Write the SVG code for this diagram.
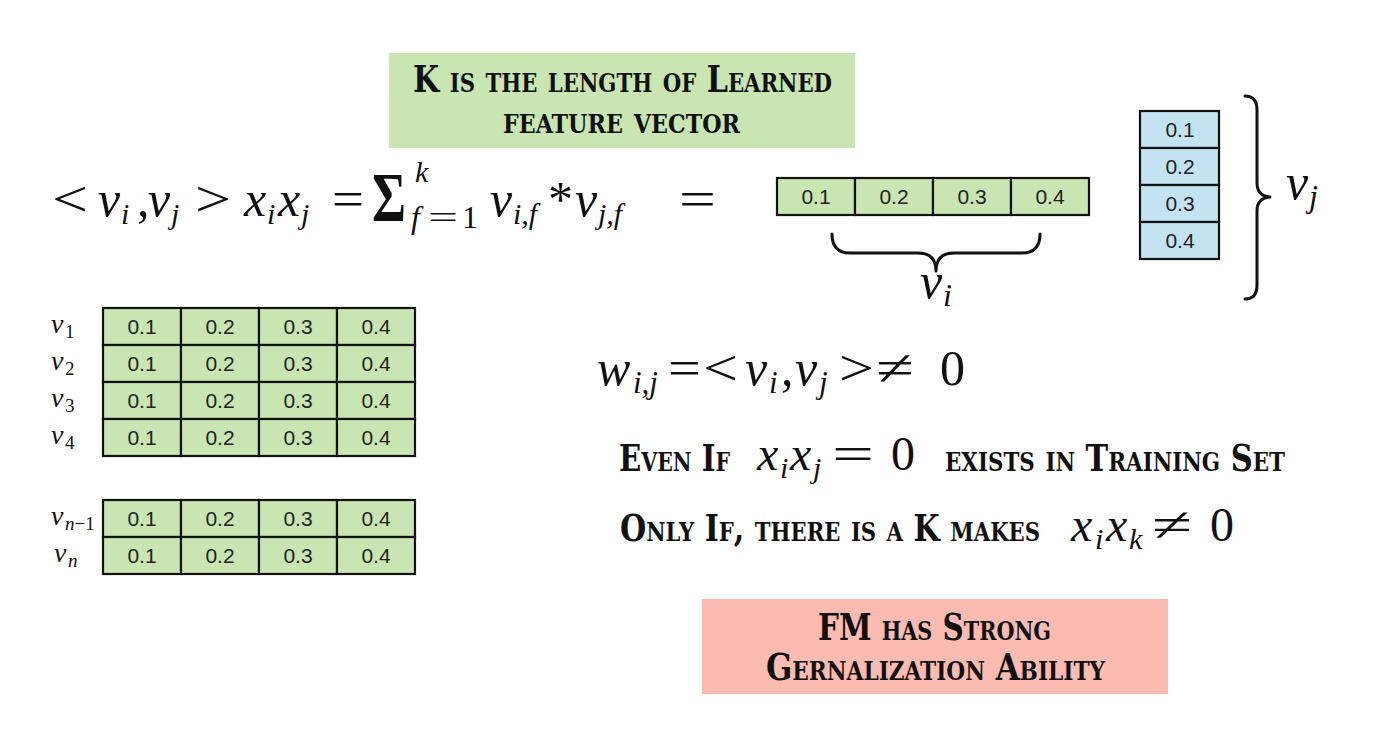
<svg xmlns="http://www.w3.org/2000/svg" width="1400" height="747" viewBox="0 0 1400 747">
<style>
.bg{fill:#ffffff}
.g{fill:#c9e6b2;stroke:#111;stroke-width:2.2}
.b{fill:#c3e2f2;stroke:#111;stroke-width:2.2}
.num{font-family:"Liberation Sans",Arial,sans-serif;font-size:21px;fill:#222;text-anchor:middle}
.m{font-family:"Liberation Serif","Times New Roman",serif;fill:#111}
.i{font-style:italic}
.hd{font-family:"DejaVu Serif Condensed","DejaVu Serif",serif;font-weight:bold;font-variant:small-caps;fill:#111;font-size:37px}
.brace{fill:none;stroke:#111;stroke-width:3;stroke-linecap:round;stroke-linejoin:round}
</style>
<rect class="bg" x="0" y="0" width="1400" height="747"/>

<g id="note-k">
<rect x="389" y="53" width="466" height="95" fill="#c9e6b2"/>
<text class="hd" x="413" y="92" textLength="419" lengthAdjust="spacingAndGlyphs">K is the length of Learned</text>
<text class="hd" x="503" y="133" textLength="237" lengthAdjust="spacingAndGlyphs">feature vector</text>
</g>

<g id="formula-main">
<text class="m" x="52" y="216" font-size="50" textLength="36" lengthAdjust="spacingAndGlyphs">&lt;</text>
<text class="m i" x="98" y="216" font-size="50">v</text>
<text class="m i" x="121" y="224" font-size="30">i</text>
<text class="m" x="137" y="216" font-size="50">,</text>
<text class="m i" x="148" y="216" font-size="50">v</text>
<text class="m i" x="171" y="224" font-size="30">j</text>
<text class="m" x="195" y="216" font-size="50" textLength="36" lengthAdjust="spacingAndGlyphs">&gt;</text>
<text class="m i" x="244" y="216" font-size="50">x</text>
<text class="m i" x="267" y="224" font-size="30">i</text>
<text class="m i" x="278" y="216" font-size="50">x</text>
<text class="m i" x="301" y="224" font-size="30">j</text>
<text class="m" x="332" y="216" font-size="50" textLength="32" lengthAdjust="spacingAndGlyphs">=</text>
<text class="m" x="372" y="221" font-size="70" font-weight="bold" textLength="34" lengthAdjust="spacingAndGlyphs">Σ</text>
<text class="m i" x="415" y="182" font-size="30">k</text>
<text class="m i" x="411" y="228" font-size="32">f</text>
<text class="m" x="428" y="228" font-size="32" textLength="30" lengthAdjust="spacingAndGlyphs">=</text>
<text class="m" x="462" y="228" font-size="32">1</text>
<text class="m i" x="490" y="216" font-size="50">v</text>
<text class="m i" x="513" y="224" font-size="30">i,f</text>
<text class="m" x="548" y="216" font-size="50">*</text>
<text class="m i" x="575" y="216" font-size="50">v</text>
<text class="m i" x="598" y="224" font-size="30">j,f</text>
<text class="m" x="679" y="216" font-size="50" textLength="37" lengthAdjust="spacingAndGlyphs">=</text>
</g>

<g id="vector-vi">
<rect class="g" x="777" y="178" width="78" height="37"/>
<rect class="g" x="855" y="178" width="78" height="37"/>
<rect class="g" x="933" y="178" width="78" height="37"/>
<rect class="g" x="1011" y="178" width="78" height="37"/>
<text class="num" x="816" y="204">0.1</text>
<text class="num" x="894" y="204">0.2</text>
<text class="num" x="972" y="204">0.3</text>
<text class="num" x="1050" y="204">0.4</text>
</g>

<g id="vector-vj">
<rect class="b" x="1140" y="111" width="79" height="37"/>
<rect class="b" x="1140" y="148" width="79" height="37"/>
<rect class="b" x="1140" y="185" width="79" height="37"/>
<rect class="b" x="1140" y="222" width="79" height="37"/>
<text class="num" x="1180" y="137">0.1</text>
<text class="num" x="1180" y="174">0.2</text>
<text class="num" x="1180" y="211">0.3</text>
<text class="num" x="1180" y="248">0.4</text>
</g>

<g id="braces">
<path class="brace" d="M832,234 Q832,253 850,253 L918,253 Q936,253 936,271 Q936,253 954,253 L1022,253 Q1040,253 1040,234"/>
<path class="brace" d="M1245,96 Q1257,96 1257,110 L1257,183 Q1257,196 1270,197 Q1257,198 1257,211 L1257,285 Q1257,299 1245,299"/>
</g>

<g id="label-vi">
<text x="920" y="298" font-size="50" class="m i">v</text>
<text x="943" y="306" font-size="32" class="m i">i</text>
</g>
<g id="label-vj">
<text x="1286" y="199" font-size="50" class="m i">v</text>
<text x="1309" y="207" font-size="32" class="m i">j</text>
</g>

<g id="table-top">
<rect class="g" x="103" y="308" width="78" height="37"/><rect class="g" x="181" y="308" width="78" height="37"/><rect class="g" x="259" y="308" width="78" height="37"/><rect class="g" x="337" y="308" width="78" height="37"/>
<rect class="g" x="103" y="345" width="78" height="37"/><rect class="g" x="181" y="345" width="78" height="37"/><rect class="g" x="259" y="345" width="78" height="37"/><rect class="g" x="337" y="345" width="78" height="37"/>
<rect class="g" x="103" y="382" width="78" height="37"/><rect class="g" x="181" y="382" width="78" height="37"/><rect class="g" x="259" y="382" width="78" height="37"/><rect class="g" x="337" y="382" width="78" height="37"/>
<rect class="g" x="103" y="419" width="78" height="37"/><rect class="g" x="181" y="419" width="78" height="37"/><rect class="g" x="259" y="419" width="78" height="37"/><rect class="g" x="337" y="419" width="78" height="37"/>
<text class="num" x="142" y="334">0.1</text><text class="num" x="220" y="334">0.2</text><text class="num" x="298" y="334">0.3</text><text class="num" x="376" y="334">0.4</text>
<text class="num" x="142" y="371">0.1</text><text class="num" x="220" y="371">0.2</text><text class="num" x="298" y="371">0.3</text><text class="num" x="376" y="371">0.4</text>
<text class="num" x="142" y="408">0.1</text><text class="num" x="220" y="408">0.2</text><text class="num" x="298" y="408">0.3</text><text class="num" x="376" y="408">0.4</text>
<text class="num" x="142" y="445">0.1</text><text class="num" x="220" y="445">0.2</text><text class="num" x="298" y="445">0.3</text><text class="num" x="376" y="445">0.4</text>
<text class="m i" x="51" y="333" font-size="28">v</text><text class="m" x="65" y="338" font-size="19">1</text>
<text class="m i" x="51" y="370" font-size="28">v</text><text class="m" x="65" y="375" font-size="19">2</text>
<text class="m i" x="51" y="407" font-size="28">v</text><text class="m" x="65" y="412" font-size="19">3</text>
<text class="m i" x="51" y="444" font-size="28">v</text><text class="m" x="65" y="449" font-size="19">4</text>
</g>

<g id="table-bottom">
<rect class="g" x="103" y="500" width="78" height="37"/><rect class="g" x="181" y="500" width="78" height="37"/><rect class="g" x="259" y="500" width="78" height="37"/><rect class="g" x="337" y="500" width="78" height="37"/>
<rect class="g" x="103" y="537" width="78" height="37"/><rect class="g" x="181" y="537" width="78" height="37"/><rect class="g" x="259" y="537" width="78" height="37"/><rect class="g" x="337" y="537" width="78" height="37"/>
<text class="num" x="142" y="526">0.1</text><text class="num" x="220" y="526">0.2</text><text class="num" x="298" y="526">0.3</text><text class="num" x="376" y="526">0.4</text>
<text class="num" x="142" y="563">0.1</text><text class="num" x="220" y="563">0.2</text><text class="num" x="298" y="563">0.3</text><text class="num" x="376" y="563">0.4</text>
<text class="m i" x="51" y="525" font-size="28">v</text><text class="m" x="65" y="530" font-size="19"><tspan class="i">n</tspan>−1</text>
<text class="m i" x="54" y="562" font-size="28">v</text><text class="m i" x="68" y="567" font-size="19">n</text>
</g>

<g id="formula-w">
<text x="597" y="385" font-size="50" class="m i">w</text>
<text x="633" y="393" font-size="31" class="m i">i,j</text>
<text x="668" y="385" font-size="50" class="m" textLength="33" lengthAdjust="spacingAndGlyphs">=</text>
<text x="703" y="385" font-size="50" class="m" textLength="35" lengthAdjust="spacingAndGlyphs">&lt;</text>
<text x="745" y="385" font-size="50" class="m i">v</text>
<text x="769" y="393" font-size="31" class="m i">i</text>
<text x="781" y="385" font-size="50" class="m">,</text>
<text x="795" y="385" font-size="50" class="m i">v</text>
<text x="819" y="393" font-size="31" class="m i">j</text>
<text x="839" y="385" font-size="50" class="m" textLength="35" lengthAdjust="spacingAndGlyphs">&gt;</text>
<text x="876" y="385" font-size="50" class="m" textLength="38" lengthAdjust="spacingAndGlyphs">≠</text>
<text x="940" y="385" font-size="50" class="m">0</text>
</g>

<g id="line-even">
<text class="hd" x="619" y="471" textLength="111" lengthAdjust="spacingAndGlyphs">Even If</text>
<text x="757" y="470" font-size="48" class="m i">x</text>
<text x="780" y="478" font-size="30" class="m i">i</text>
<text x="790" y="470" font-size="48" class="m i">x</text>
<text x="813" y="478" font-size="30" class="m i">j</text>
<text x="832" y="470" font-size="48" class="m" textLength="42" lengthAdjust="spacingAndGlyphs">=</text>
<text x="891" y="470" font-size="48" class="m">0</text>
<text class="hd" x="945" y="471" textLength="340" lengthAdjust="spacingAndGlyphs">exists in Training Set</text>
</g>

<g id="line-only">
<text class="hd" x="620" y="541" textLength="420" lengthAdjust="spacingAndGlyphs">Only If, there is a K makes</text>
<text x="1071" y="541" font-size="48" class="m i">x</text>
<text x="1095" y="549" font-size="30" class="m i">i</text>
<text x="1106" y="541" font-size="48" class="m i">x</text>
<text x="1129" y="549" font-size="30" class="m i">k</text>
<text x="1152" y="541" font-size="48" class="m" textLength="40" lengthAdjust="spacingAndGlyphs">≠</text>
<text x="1210" y="541" font-size="48" class="m">0</text>
</g>

<g id="note-fm">
<rect x="702" y="599" width="466" height="95" fill="#fbbbb1"/>
<text class="hd" x="818" y="640" textLength="233" lengthAdjust="spacingAndGlyphs">FM has Strong</text>
<text class="hd" x="766" y="680" textLength="339" lengthAdjust="spacingAndGlyphs">Gernalization Ability</text>
</g>
</svg>
